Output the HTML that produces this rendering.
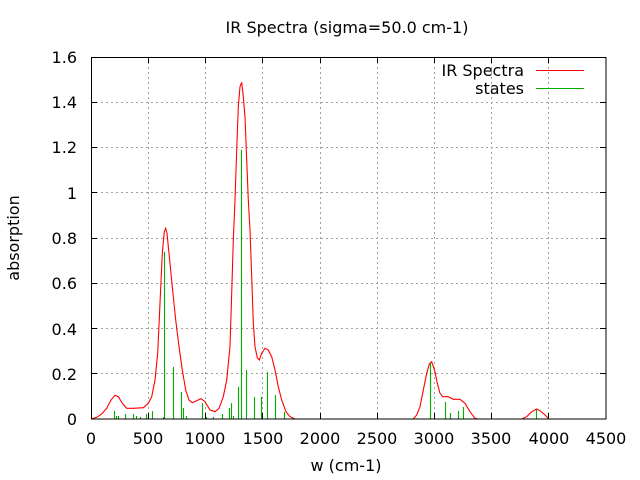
<!DOCTYPE html>
<html><head><meta charset="utf-8"><style>
html,body{margin:0;padding:0;background:#fff;}
svg{display:block;font-family:"DejaVu Sans","Liberation Sans",sans-serif;font-size:16px;}
</style></head><body>
<svg width="640" height="480" viewBox="0 0 640 480" xmlns="http://www.w3.org/2000/svg">
<rect width="640" height="480" fill="#fff"/>
<g stroke="#a0a0a0" stroke-width="1" stroke-dasharray="2,3">
<path d="M148.5,57V419M205.5,57V419M262.5,57V419M320.5,57V419M377.5,57V419M434.5,57V419M491.5,57V419M548.5,57V419"/>
<path d="M91,373.5H606M91,328.5H606M91,283.5H606M91,238.5H606M91,192.5H606M91,147.5H606M91,102.5H606"/>
</g>
<g stroke="#000" stroke-width="1">
<path d="M148.5,419v-6M205.5,419v-6M262.5,419v-6M320.5,419v-6M377.5,419v-6M434.5,419v-6M491.5,419v-6M548.5,419v-6"/>
<path d="M148.5,57v6M205.5,57v6M262.5,57v6M320.5,57v6M377.5,57v6M434.5,57v6M491.5,57v6M548.5,57v6"/>
<path d="M91,373.5h6M91,328.5h6M91,283.5h6M91,238.5h6M91,192.5h6M91,147.5h6M91,102.5h6"/>
<path d="M606,373.5h-6M606,328.5h-6M606,283.5h-6M606,238.5h-6M606,192.5h-6M606,147.5h-6M606,102.5h-6"/>
</g>
<g stroke="#00b000" stroke-width="1.1" fill="none">
<path d="M114.5,419V411M116.5,419V416M118.5,419V416M125.5,419V414M133.5,419V414M136.5,419V416M140.5,419V417M146.5,419V414M152.5,419V411M164.5,419V252M163.5,419V417M173.5,419V367M181.5,419V392M183.5,419V408M186.5,419V416M202.5,419V403M206.5,419V417M213.5,419V417M222.5,419V414M229.5,419V408M231.5,419V403M233.5,419V416M238.5,419V387M241.5,419V150M246.5,419V370M254.5,419V397M261.5,419V397M267.5,419V372M275.5,419V395M284.5,419V412M430.5,419V362M445.5,419V402M450.5,419V413M458.5,419V411M463.5,419V407M536.5,419V409"/>
</g>
<path fill="none" stroke="#ff0000" stroke-width="1.1" d="M91,419 L96.7,417.3 101.7,414 106.7,408.3 111,400 115,395.3 118.3,396.7 122.3,403.3 126.7,408.3 133.3,408.3 143.3,407.7 148.3,403.3 151.7,396.7 155,380 157.7,353.3 160,303.3 162.3,253.3 164.3,231.7 165.7,228.3 167,233.3 169,253.3 172.3,286.7 175.7,320 179,346.7 182.3,370 185.7,390 189,400 192.3,402.7 196.7,400.7 201,398.7 205,401.7 210,410 215,411.7 219,408.3 223.3,396.7 226.7,380 230,346.7 231.7,293.3 233.3,240 235,200 236.7,150 238.3,106.7 240,86.7 241.7,82.3 243.3,96.7 245,116.7 246.7,160 248.3,200 250,230 251.7,276.7 253.3,323.3 255,346.7 257.3,357.7 259.3,360 261.7,353.3 265,348.3 268.3,350 271.7,356.7 275,370 278.3,386.7 281.7,400 286,411.7 290,416.7 295,419 413.3,419 416.7,415 420,406.7 423.3,390 426.7,373.3 429.3,364 431.7,361.7 435,371.7 437.3,383.3 440,393.3 442.7,396.7 448.3,396.7 453.3,399.3 460,399.3 465,403.3 470,411.7 475,418.3 478.3,419 521.7,419 526.7,416.7 531.7,411.7 536.7,409 540,410.7 545,415 549,419"/>
<rect x="91.5" y="57.5" width="514.5" height="361.5" fill="none" stroke="#000" stroke-width="1"/>
<g fill="#000">
<text x="347" y="33" text-anchor="middle">IR Spectra (sigma=50.0 cm-1)</text>
<g text-anchor="end">
<text x="77" y="425">0</text>
<text x="77" y="380">0.2</text>
<text x="77" y="335">0.4</text>
<text x="77" y="289">0.6</text>
<text x="77" y="244">0.8</text>
<text x="77" y="199">1</text>
<text x="77" y="153">1.2</text>
<text x="77" y="108">1.4</text>
<text x="77" y="63">1.6</text>
<text x="524" y="76">IR Spectra</text>
<text x="524" y="94">states</text>
</g>
<g text-anchor="middle">
<text x="91" y="444">0</text>
<text x="148" y="444">500</text>
<text x="205" y="444">1000</text>
<text x="263" y="444">1500</text>
<text x="320" y="444">2000</text>
<text x="377" y="444">2500</text>
<text x="434" y="444">3000</text>
<text x="491" y="444">3500</text>
<text x="549" y="444">4000</text>
<text x="606" y="444">4500</text>
<text x="346" y="471">w (cm-1)</text>
<text transform="translate(19,238) rotate(-90)">absorption</text>
</g>
</g>
<path d="M536,70.5H584" stroke="#ff0000" stroke-width="1"/>
<path d="M536,88.5H584" stroke="#00b000" stroke-width="1"/>
</svg>
</body></html>
